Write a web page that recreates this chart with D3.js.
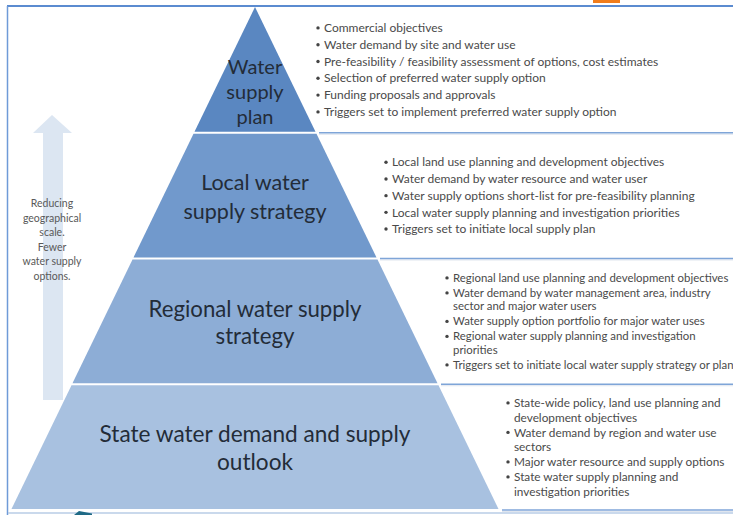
<!DOCTYPE html>
<html lang="en">
<head>
  <meta charset="UTF-8" />
  <title>Water supply planning hierarchy</title>
  <script src="https://d3js.org/d3.v7.min.js"></script>
  <style>
    body, html { margin: 0; padding: 0; background: #fff; }
    svg { display: block; font-family: Lato, "Open Sans", sans-serif; }
  </style>
</head>
<body>
  <svg id="chart" width="733" height="515"></svg>
  <script>
    // Tiers of the pyramid, top to bottom
    const tierLabels = [
      ["Water", "supply", "plan"],
      ["Local water", "supply strategy"],
      ["Regional water supply", "strategy"],
      ["State water demand and supply", "outlook"]
    ];
    const tierColors = ["#5a87c1", "#7199cc", "#8dadd6", "#a8c1e0"];

    // Bullet points per tier (each item is a list of wrapped lines)
    const planBullets = [
      ["Commercial objectives"],
      ["Water demand by site and water use"],
      ["Pre-feasibility / feasibility assessment of options, cost estimates"],
      ["Selection of preferred water supply option"],
      ["Funding proposals and approvals"],
      ["Triggers set to implement preferred water supply option"]
    ];
    const localBullets = [
      ["Local land use planning and development objectives"],
      ["Water demand by water resource and water user"],
      ["Water supply options short-list for pre-feasibility planning"],
      ["Local water supply planning and investigation priorities"],
      ["Triggers set to initiate local supply plan"]
    ];
    const regionalBullets = [
      ["Regional land use planning and development objectives"],
      ["Water demand by water management area, industry", "sector and major water users"],
      ["Water supply option portfolio for major water uses"],
      ["Regional water supply planning and investigation", "priorities"],
      ["Triggers set to initiate local water supply strategy or plan"]
    ];
    const stateBullets = [
      ["State-wide policy, land use planning and", "development objectives"],
      ["Water demand by region and water use", "sectors"],
      ["Major water resource and supply options"],
      ["State water supply planning and", "investigation priorities"]
    ];
    const bulletSets = [planBullets, localBullets, regionalBullets, stateBullets];

    const arrowNote = ["Reducing", "geographical", "scale.", "Fewer", "water supply", "options."];

    const W = 733, H = 515;
    const svg = d3.select("#chart");

    // Vertical scale: tier index -> y, horizontal: distance from apex -> half width
    const apexX = 255;
    const y = d3.scaleLinear().domain([0, tierLabels.length]).range([7, 510]);
    const halfW = d3.scaleLinear().domain([7, 510]).range([0, 244]);

    // Frame
    svg.append("line").attr("x1", 7).attr("x2", W).attr("y1", 6).attr("y2", 6)
      .attr("stroke", "#5b8bd0").attr("stroke-width", 2);
    svg.append("line").attr("x1", 7.5).attr("x2", 7.5).attr("y1", 6).attr("y2", H)
      .attr("stroke", "#6f9bd8").attr("stroke-width", 1.5);
    svg.append("line").attr("x1", 8).attr("x2", W).attr("y1", 513).attr("y2", 513)
      .attr("stroke", "#b9cce6").attr("stroke-width", 1.5);
    svg.append("rect").attr("x", 593).attr("y", 0).attr("width", 27).attr("height", 3)
      .attr("fill", "#f07c1b");

    // Upward arrow
    const arrowTop = 115, headBase = 133, arrowBottom = 400;
    svg.append("path")
      .attr("d", d3.line()([
        [52, arrowTop], [72, headBase], [63, headBase], [63, arrowBottom],
        [43, arrowBottom], [43, headBase], [33, headBase]
      ]) + "Z")
      .attr("fill", "#dce6f2");

    svg.append("g").selectAll("text").data(arrowNote).join("text")
      .attr("x", 52).attr("y", (d, i) => 207 + i * 14.6)
      .attr("text-anchor", "middle").attr("font-size", 10.5)
      .attr("fill", "#595959").text(d => d);

    // Separator lines to the right of the pyramid
    const bounds = d3.range(1, tierLabels.length + 1).map(i => y(i));
    const seps = svg.append("g");
    seps.selectAll("line.shadow").data(bounds).join("line").attr("class", "shadow")
      .attr("x1", d => apexX + halfW(d) + 3).attr("x2", W)
      .attr("y1", d => d + 1.5).attr("y2", d => d + 1.5)
      .attr("stroke", "#dfe5ee").attr("stroke-width", 1);
    seps.selectAll("line.sep").data(bounds).join("line").attr("class", "sep")
      .attr("x1", d => apexX + halfW(d) + 3).attr("x2", W)
      .attr("y1", d => d).attr("y2", d => d)
      .attr("stroke", "#7fa5d8").attr("stroke-width", 1.5);

    // Pyramid tiers
    const gap = 1;
    const tiers = svg.append("g").selectAll("g").data(tierLabels).join("g");
    tiers.append("path")
      .attr("d", (d, i) => {
        const t = i === 0 ? y(0) : y(i) + gap;
        const b = y(i + 1) - gap;
        return d3.line()([
          [apexX - halfW(t), t], [apexX + halfW(t), t],
          [apexX + halfW(b), b], [apexX - halfW(b), b]
        ]) + "Z";
      })
      .attr("fill", (d, i) => tierColors[i]);

    const labelSize = [20, 21.5, 22.2, 22.6];
    const labelLead = [25, 29, 27, 28];
    tiers.each(function (lines, i) {
      const cy = i === 0 ? 92 : (y(i) + y(i + 1)) / 2 + 1;
      const lh = labelLead[i];
      d3.select(this).selectAll("text").data(lines).join("text")
        .attr("x", apexX)
        .attr("y", (d, k) => cy + (k - (lines.length - 1) / 2) * lh)
        .attr("dy", "0.35em")
        .attr("text-anchor", "middle")
        .attr("font-size", labelSize[i])
        .attr("fill", "#232c38")
        .text(d => d);
    });

    // Bullet blocks, vertically centred in each tier
    const bulletSize = [12, 12, 11.4, 11.8];
    const itemStep = [16.8, 16.7, 15, 15];
    const wrapStep = [13, 13, 13.5, 14.5];
    bulletSets.forEach((items, i) => {
      const rows = [];
      let pos = 0;
      items.forEach((lines, j) => {
        if (j > 0) pos += itemStep[i];
        lines.forEach((txt, k) => {
          if (k > 0) pos += wrapStep[i];
          rows.push({ txt, pos, first: k === 0 });
        });
      });
      const mid = (y(i) + y(i + 1)) / 2;
      const x0 = apexX + halfW(y(i + 1)) + (i === 0 ? -1 : 6);
      const top = mid - pos / 2;
      const g = svg.append("g").attr("transform", `translate(${x0},${top})`);
      g.selectAll("circle").data(rows.filter(r => r.first)).join("circle")
        .attr("cx", 3).attr("cy", r => r.pos).attr("r", 1.7).attr("fill", "#444");
      g.selectAll("text").data(rows).join("text")
        .attr("x", 9).attr("y", r => r.pos).attr("dy", "0.35em")
        .attr("font-size", bulletSize[i]).attr("fill", "#4a4a4a")
        .text(r => r.txt);
    });

    // Small cut-off shape at the bottom edge
    svg.append("path")
      .attr("d", d3.line()([[74, 515], [79, 511], [92, 513.5], [92, 515]]) + "Z")
      .attr("fill", "#1f6a86");
  </script>
</body>
</html>
